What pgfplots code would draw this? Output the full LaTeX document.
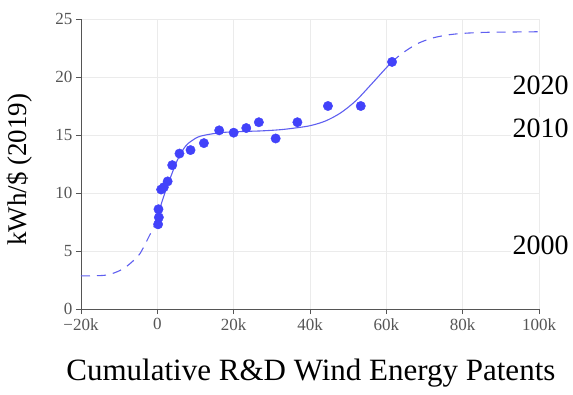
\documentclass[border=0pt]{standalone}
\usepackage{fontspec}
\setmainfont{Liberation Serif}
\usepackage{pgfplots}
\pgfplotsset{compat=1.18}
\definecolor{mk}{RGB}{66,66,250}
\definecolor{ln}{RGB}{95,95,240}
\definecolor{tk}{RGB}{85,85,85}
\definecolor{gr}{RGB}{235,235,235}
\begin{document}
\begin{tikzpicture}
\begin{axis}[
  scale only axis, width=458pt, height=290pt,
  xmin=-20, xmax=100, ymin=0, ymax=25,
  clip=false,
  axis x line*=bottom, axis y line*=left,
  axis line style={-, tk, line width=0.9pt},
  tick align=outside, major tick length=5pt,
  tick style={tk, line width=0.9pt},
  xtick={-20,0,20,40,60,80,100},
  xticklabels={−20k,0,20k,40k,60k,80k,100k},
  ytick={0,5,10,15,20,25},
  yticklabels={0,5,10,15,20,25},
  ticklabel style={font=\fontsize{17}{19}\selectfont, text=tk},
  xticklabel style={yshift=-1pt},
  xmajorgrids, ymajorgrids,
  grid style={gr, line width=0.8pt},
  xlabel={Cumulative R\&D Wind Energy Patents},
  xlabel style={font=\fontsize{31}{34}\selectfont, at={(axis description cs:0.502,0)}, anchor=base, yshift=-71pt},
  ylabel={kWh/\$ (2019)},
  ylabel style={font=\fontsize{27}{30}\selectfont, at={(axis description cs:-0.133,0.48)}, anchor=center},
]
% dashed extrapolations
\addplot[ln, line width=1.1pt, dash pattern=on 9pt off 7pt, smooth] coordinates {
 (-20,2.85) (-14,2.9) (-11,3.15) (-8.8,3.5) (-6.5,4.1) (-4.5,4.8) (-1.8,6.5) (0,7.7)};
\addplot[ln, line width=1.1pt, dash pattern=on 9pt off 7pt, smooth] coordinates {
 (61.5,21.3) (64,22.0) (68,22.85) (72,23.35) (76,23.62) (80,23.76) (86,23.85) (93,23.88) (100,23.9)};
% fitted curve
\addplot[ln, line width=1.1pt, smooth] coordinates {
 (0,7.7) (0.8,8.8) (2.5,10.5) (5.2,12.8) (7.3,14.0) (9,14.5) (11.3,14.9) (16.5,15.2)
 (22,15.3) (27,15.35) (32,15.45) (36,15.6) (40,15.8) (44,16.2) (48,16.9) (52,17.95)
 (56,19.35) (60,20.8) (61.5,21.3)};
% data
\addplot[only marks, mark=*, mark size=4.7pt, mk, mark options={draw=mk, fill=mk}] coordinates {
 (0.2,7.3) (0.4,7.9) (0.3,8.6) (1.0,10.3) (1.7,10.5) (2.7,11.0) (3.9,12.4) (5.8,13.4)
 (8.7,13.7) (12.2,14.3) (16.2,15.4) (20,15.2) (23.3,15.6) (26.6,16.1) (31,14.7)
 (36.7,16.1) (44.7,17.5) (53.3,17.5) (61.5,21.3)};
\node[anchor=base west, fill=white, inner sep=2pt, font=\fontsize{28}{30}\selectfont] at (axis cs:92.5,18.5) {2020};
\node[anchor=base west, fill=white, inner sep=2pt, font=\fontsize{28}{30}\selectfont] at (axis cs:92.5,14.8) {2010};
\node[anchor=base west, fill=white, inner sep=2pt, font=\fontsize{28}{30}\selectfont] at (axis cs:92.5,4.74) {2000};
\end{axis}
\pgfresetboundingbox
\path[use as bounding box] (-81pt,-85pt) rectangle (492pt,309pt);
\end{tikzpicture}
\end{document}
